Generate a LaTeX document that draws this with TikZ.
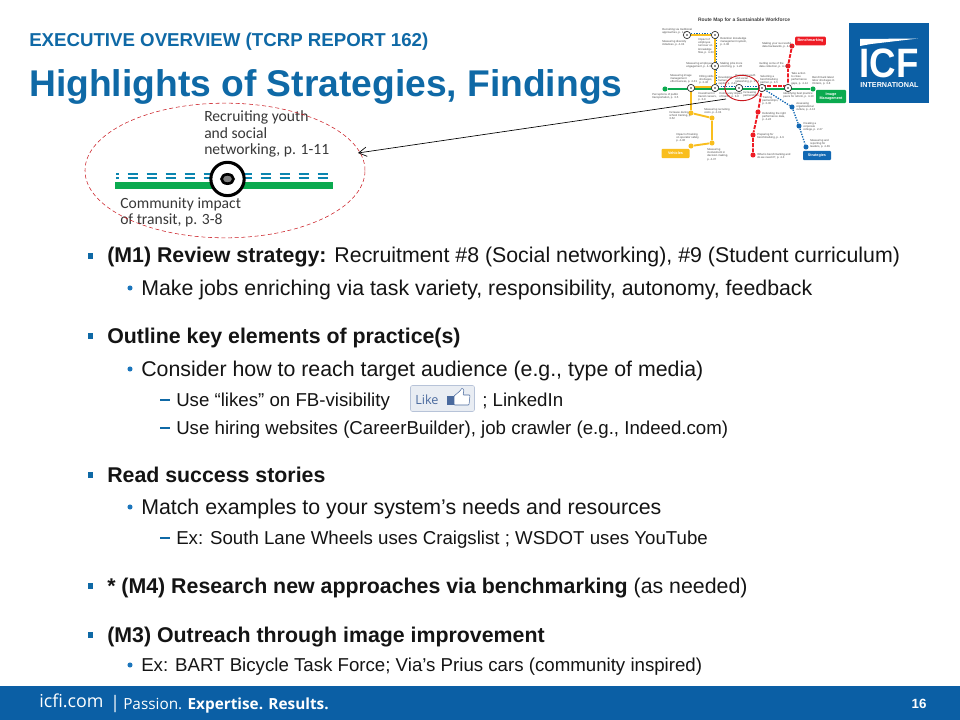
\documentclass[tikz,border=0pt]{standalone}
\usepackage{fontspec}
\setmainfont{Liberation Sans}
\newfontfamily\footfont{Open Sans}
\newfontfamily\capfont{Carlito}
\usetikzlibrary{arrows.meta,shapes.geometric}
\definecolor{icfblue}{HTML}{0B5FA5}
\definecolor{headblue}{HTML}{0F69A6}
\definecolor{bulletblue}{HTML}{1B75BB}
\definecolor{routegreen}{HTML}{0BAA4F}
\definecolor{routeyellow}{HTML}{F9BE1E}
\definecolor{routered}{HTML}{EE1C25}
\definecolor{routeblue}{HTML}{1268B3}
\definecolor{likeblue}{HTML}{4A6A9E}
\tikzset{
  txt/.style={anchor=base west, inner sep=0pt, text=black!92},
  lvlone/.style={txt, font=\fontsize{16}{16}\selectfont},
  lvltwo/.style={txt, font=\fontsize{16}{16}\selectfont},
  lvlthree/.style={txt, font=\fontsize{14}{14}\selectfont},
  sqbullet/.style={fill=headblue, minimum size=4.4pt, inner sep=0pt},
  dotbullet/.style={circle, fill=bulletblue, minimum size=3.8pt, inner sep=0pt},
  dashbullet/.style={fill=headblue, minimum width=8pt, minimum height=1.3pt, inner sep=0pt},
  maplabel/.style={anchor=north west, inner sep=0pt, align=left, text=black!70, font=\fontsize{2.1}{2.5}\selectfont},
  station/.style={circle, draw=black!80, fill=white, line width=.5pt, minimum size=5.5pt, inner sep=0pt},
  stop/.style={circle, minimum size=3.8pt, inner sep=0pt},
  mapbox/.style={rounded corners=.8pt, inner sep=0pt, text=white, font=\bfseries\fontsize{2.8}{3.4}\selectfont, align=center},
  dotline/.style={routeblue, line width=1pt, dash pattern=on 1pt off 1pt},
  dashline/.style={routered, line width=1.4pt, dash pattern=on 3pt off 1pt},
  captxt/.style={txt, text=black!78, font=\capfont\fontsize{11.7}{11.7}\selectfont}
}
\begin{document}
\begin{tikzpicture}[x=0.75pt,y=-0.75pt]
  \useasboundingbox (0,0) rectangle (960,720);
  \fill[white] (0,0) rectangle (960,720);
  % heading
  \node[txt, text=headblue, font=\bfseries\fontsize{14}{14}\selectfont] (kicker) at (29,46.5) {EXECUTIVE OVERVIEW (TCRP REPORT 162)};
  \node[txt, text=headblue, font=\bfseries\fontsize{27.9}{28}\selectfont] (title) at (29,97) {Highlights of Strategies, Findings};

  % route map
  \node[anchor=center, inner sep=0pt, text=black!75, font=\bfseries\fontsize{3.7}{4}\selectfont] (maptitle) at (744,20) {Route Map for a Sustainable Workforce};
  \node[stop, fill=routegreen] (gstart) at (665,89) {};
  \node[stop, fill=routegreen] (gend) at (813,89) {};
  \node[stop, fill=routeyellow] (y1) at (691,113) {};
  \node[stop, fill=routeyellow] (y2) at (712,118) {};
  \node[stop, fill=routeyellow] (y3) at (712,143) {};
  \node[stop, fill=routeyellow] (y4) at (691,146) {};
  \node[stop, fill=routered] (r1) at (758,112) {};
  \node[stop, fill=routered] (r2) at (753,135) {};
  \node[stop, fill=routered] (r3) at (753,155) {};
  \node[stop, fill=routered] (r4) at (788,66) {};
  \node[stop, fill=routered] (r5) at (792,46) {};
  \node[stop, fill=routeblue] (b1) at (792,107) {};
  \node[stop, fill=routeblue] (b2) at (799,126) {};
  \node[stop, fill=routeblue] (b3) at (806,147) {};
  \coordinate (s1) at (691,88);
  \coordinate (s2) at (715,88);
  \coordinate (s3) at (739,88);
  \coordinate (s4) at (762,88);
  \coordinate (s5) at (788,88);
  \coordinate (t1) at (687,35);
  \coordinate (t2) at (715,35);
  \coordinate (t3) at (715,66);
  \draw[routegreen, line width=1.8pt] (gstart) -- (gend);
  \draw[routeyellow, line width=1.4pt] (s1) -- (y1) -- (y2) -- (y3) -- (y4);
  \draw[routeyellow, line width=1.4pt] (t1) -- (t2) -- (t3) -- (s2);
  \draw[routeyellow, line width=1.4pt, transform canvas={yshift=1pt}] (s2) -- (s1);
  \draw[dashline] (s4) -- (r1) -- (r2) -- (r3);
  \draw[dashline] (s5) -- (r4) -- (r5);
  \draw[dashline, transform canvas={yshift=1.2pt}] (s4) -- (s5);
  \draw[dotline, transform canvas={xshift=1pt,yshift=1.2pt}] (t1) -- (t2) -- (s2) -- (s4);
  \draw[dotline] (s4) -- (b1) -- (b2) -- (b3);
  \foreach \st in {s1,s2,s3,s4,s5,t1,t2,t3}{
    \node[station] at (\st) {};
    \fill[black!85] (\st) circle (.7pt);
  }
  \node[mapbox, fill=routered, minimum width=23pt, minimum height=6.5pt] (benchbox) at (810.5,41) {Benchmarking};
  \node[mapbox, fill=routegreen, minimum width=22.5pt, minimum height=10pt] (imagebox) at (831,96.5) {Image\\Management};
  \node[mapbox, fill=routeyellow, minimum width=21pt, minimum height=7pt] (vehiclebox) at (675.5,153.5) {Vehicles};
  \node[mapbox, fill=routeblue, minimum width=21pt, minimum height=7pt] (stratbox) at (817,155.5) {Strategies};
  \node[maplabel] (a1) at (662,28) {Recruiting via traditional\\approaches, p. 1-9};
  \node[maplabel] (a2) at (662,40) {Measuring diversity\\initiatives, p. 4-34};
  \node[maplabel] (a3) at (698,38) {Impact of\\employee\\turnover on\\knowledge\\flow, p. 4-33};
  \node[maplabel] (a4) at (720,37) {Retention knowledge\\management system,\\p. 2-38};
  \node[maplabel] (a5) at (686,62) {Measuring employee\\engagement, p. 4-36};
  \node[maplabel] (a6) at (720,62) {Making jobs more\\enriching, p. 1-26};
  \node[maplabel] (a7) at (670,74) {Measuring image\\management\\effectiveness, p. 4-31};
  \node[maplabel] (a8) at (699,75) {Filling skills\\shortages,\\p. 2-46};
  \node[maplabel] (a9) at (718,76) {Developing\\human\\capital, p. 2-41};
  \node[maplabel] (a10) at (735,74) {Recruiting youth\\and social\\networking, p. 1-11};
  \node[maplabel] (a11) at (760,75) {Selecting a\\benchmarking\\partner, p. 3-5};
  \node[maplabel] (a12) at (791,72) {Take action\\to close\\performance\\gaps, p. 4-14};
  \node[maplabel] (a13) at (812,76) {Benchmark latest\\labor shortages in\\Ontario, p. 3-8};
  \node[maplabel] (a14) at (652,93) {Perceptions of public\\transportation, p. 3-5};
  \node[maplabel] (a15) at (698,92) {Investment in\\transit careers,\\p. 3-9};
  \node[maplabel] (a16) at (719,92) {Community impact\\of transit, p. 3-8};
  \node[maplabel] (a17) at (743,91) {Increasing\\partnerships};
  \node[maplabel] (a18) at (783,92) {Identifying best practice\\peers for reform, p. 4-10};
  \node[maplabel] (a19) at (762,96) {Training\\partnerships,\\p. 2-30};
  \node[maplabel] (a20) at (796,102) {Assessing\\organizational\\culture, p. 4-13};
  \node[maplabel] (a21) at (803,122) {Creating a\\corporate\\college, p. 2-27};
  \node[maplabel] (a22) at (810,139) {Measuring and\\reporting for\\leaders, p. 4-39};
  \node[maplabel] (a23) at (669,111) {Increase during\\school training, p.\\3-52};
  \node[maplabel] (a24) at (704,108) {Measuring recruiting\\costs, p. 4-34};
  \node[maplabel] (a25) at (676,133) {Impact of training\\on operator safety,\\p. 4-36};
  \node[maplabel] (a26) at (707,148) {Measuring\\involvement in\\decision making,\\p. 4-37};
  \node[maplabel] (a27) at (762,112) {Defending the right\\performance data,\\p. 4-24};
  \node[maplabel] (a28) at (757,133) {Preparing for\\benchmarking, p. 4-9};
  \node[maplabel] (a29) at (757,153) {What is benchmarking and\\do we need it?, p. 4-3};
  \node[maplabel] (a30) at (762,42) {Making your successful\\data backwards, p. 4-18};
  \node[maplabel] (a31) at (759,62) {Getting some of the\\data collection, p. 4-16};

  % logo
  \fill[icfblue] (849,23) rectangle (929,103);
  \node[inner sep=0pt, text=white, font=\bfseries\fontsize{27.5}{28}\selectfont, yscale=1.12, transform shape] (logotext) at (889,63) {ICF};
  \node[inner sep=0pt, text=white, font=\bfseries\fontsize{5.4}{6}\selectfont] (logosub) at (889.5,85) {INTERNATIONAL};
  \fill[white] (860,39) -- (918,38.5) -- (871,44) -- (860,46) -- cycle;

  % magnified detail
  \fill[routegreen] (115,182) rectangle (333,189);
  \foreach \ypos in {173.7,178.2}{
    \draw[routeblue!65!cyan!85!black, line width=1.3pt, dash pattern=on 7.5pt off 6.75pt, dash phase=5.5pt] (116,\ypos) -- (331,\ypos);
  }
  \node[circle, draw=black, fill=white, line width=2.3pt, minimum size=25pt, inner sep=0pt] (bigstation) at (227.5,179) {};
  \node[ellipse, draw=black, line width=2pt, fill=black!50, minimum width=9pt, minimum height=7pt, inner sep=0pt] (bigring) at (227.5,179) {};
  \node[captxt] (rec1) at (204,122) {Recruiting youth};
  \node[captxt] (rec2) at (204,139) {and social};
  \node[captxt] (rec3) at (204,155) {networking, p. 1-11};
  \node[captxt] (com1) at (120,209) {Community  impact};
  \node[captxt] (com2) at (120,225) {of transit,  p. 3-8};
  \node[ellipse, draw=routered!85!black, line width=.4pt, densely dashed, minimum width=210pt, minimum height=101pt, inner sep=0pt] (detail) at (225,170.5) {};
  \node[ellipse, draw=routered!85!black, line width=.7pt, minimum width=26pt, minimum height=19pt, inner sep=0pt] (smallring) at (742,88) {};
  \coordinate (arrowfrom) at (726,99);
  \coordinate (arrowto) at (358,153);
  \draw[-{Straight Barb[length=6pt,width=7pt]}, black, line width=.5pt] (arrowfrom) -- (arrowto);

  % body
  \node[sqbullet] (b1a) at (90.5,256) {};
  \node[lvlone] (t1a) at (107,263) {\textbf{(M1) Review strategy:} Recruitment \#8 (Social networking), \#9 (Student curriculum)};
  \node[dotbullet] (b1b) at (130,288) {};
  \node[lvltwo] (t1b) at (141,295.5) {Make jobs enriching via task variety, responsibility, autonomy, feedback};
  \node[sqbullet] (b2a) at (90.5,336) {};
  \node[lvlone] (t2a) at (107,343) {\textbf{Outline key elements of practice(s)}};
  \node[dotbullet] (b2b) at (130,369) {};
  \node[lvltwo] (t2b) at (141,376) {Consider how to reach target audience (e.g., type of media)};
  \node[dashbullet] (b2c) at (165,400) {};
  \node[lvlthree] (t2c) at (176,406) {Use “likes” on FB-visibility};
  \node[lvlthree] (t2d) at (482,406) {; LinkedIn};
  \node[dashbullet] (b2e) at (165,428) {};
  \node[lvlthree] (t2e) at (176,434) {Use hiring websites (CareerBuilder), job crawler (e.g., Indeed.com)};
  \node[sqbullet] (b3a) at (90.5,475) {};
  \node[lvlone] (t3a) at (107,482.5) {\textbf{Read success stories}};
  \node[dotbullet] (b3b) at (130,507) {};
  \node[lvltwo] (t3b) at (141,514) {Match examples to your system’s needs and resources};
  \node[dashbullet] (b3c) at (165,538) {};
  \node[lvlthree] (t3c) at (176,544) {Ex: South Lane Wheels uses Craigslist ; WSDOT uses YouTube};
  \node[sqbullet] (b4a) at (90.5,586) {};
  \node[lvlone] (t4a) at (107,593) {\textbf{* (M4) Research new approaches via benchmarking} (as needed)};
  \node[sqbullet] (b5a) at (90.5,635) {};
  \node[lvlone] (t5a) at (107,642) {\textbf{(M3) Outreach through image improvement}};
  \node[dotbullet] (b5b) at (130,665) {};
  \node[lvlthree] (t5b) at (141,671.5) {Ex: BART Bicycle Task Force; Via’s Prius cars (community inspired)};

  % like button
  \node[draw=likeblue!40, fill=likeblue!12, rounded corners=1.5pt, minimum width=48pt, minimum height=19.5pt, inner sep=0pt] (likebox) at (442.5,398.5) {};
  \node[anchor=base west, inner sep=0pt, text=likeblue, font=\footfont\fontsize{9.5}{9.5}\selectfont] (liketext) at (415,404) {Like};
  \fill[likeblue] (447,396) rectangle (454,405);
  \draw[likeblue, fill=white, line width=.4pt, rounded corners=.6pt] (454,396) -- (460,391) -- (462,388) -- (464,390) -- (463,395) -- (470,395) -- (469,405) -- (454,405) -- cycle;

  % footer
  \fill[icfblue] (0,686) rectangle (960,720);
  \node[anchor=base west, inner sep=0pt, text=white, font=\footfont\fontsize{13.4}{13.4}\selectfont] (site) at (39,707) {icfi.com};
  \node[anchor=base west, inner sep=0pt, text=white, font=\footfont\fontsize{13}{13}\selectfont] (sep) at (110,708) {|};
  \node[anchor=base west, inner sep=0pt, text=white, font=\footfont\fontsize{11.5}{11.5}\selectfont] (motto) at (123,709) {Passion. \textbf{Expertise. Results.}};
  \node[anchor=base, inner sep=0pt, text=white, font=\bfseries\fontsize{10}{10}\selectfont] (pageno) at (919,708) {16};
\end{tikzpicture}
\end{document}
